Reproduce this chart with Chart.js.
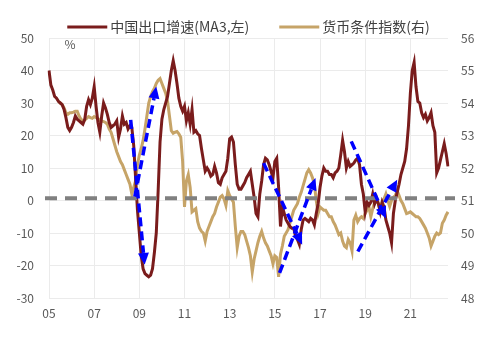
<!DOCTYPE html>
<html>
<head>
<meta charset="utf-8">
<script src="https://cdn.jsdelivr.net/npm/chart.js@4.4.1/dist/chart.umd.min.js"></script>
<style>
    html, body { margin: 0; padding: 0; background: #fff; }
    #wrap { width: 500px; height: 343px; }
</style>
</head>
<body>
<div id="wrap"><canvas id="exportChart" width="500" height="343"></canvas></div>
<script>
const startYear = 2005;
const tickLabels = ['05', '07', '09', '11', '13', '15', '17', '19', '21'];
const seriesNames = ['中国出口增速(MA3,左)', '货币条件指数(右)'];

// China export growth, MA3, % (left axis), monthly from 2005-01
const exportGrowth = [
    40, 35.5, 34, 32, 31.5, 30.5, 30, 29.5, 28, 25.5, 22.5, 21.5,
    22.5, 24, 26, 25, 24.5, 24, 23.5, 25, 29, 31, 29.5, 31.5,
    35, 29, 24, 21, 26, 30, 28.5, 26.5, 24, 22.5, 23, 23.5,
    24.5, 19.5, 22, 26, 23.5, 24, 22, 23, 22.5, 17, 7, -3,
    -10, -17, -21, -22.5, -23, -23.5, -23, -21, -16, -10, 3, 18,
    25, 28, 30, 32, 36, 40, 43, 40, 36, 31.5, 29, 27.5,
    29, 24.5, 27, 23.5, 28, 21, 21.5, 20.5, 20, 16, 12.5, 9,
    10, 9, 7.5, 8, 10.5, 8.5, 5.5, 5, 7, 8, 9, 13,
    19, 19.5, 18, 11, 5, 3.5, 3.5, 4.5, 5.5, 7, 8, 9,
    5, 1, -4, -5, 2, 6, 11, 13, 12.5, 11, 9, 7,
    12, 13, 4, -8, -2, -4, -6, -7, -8, -8.5, -8.5, -11,
    -12, -13.5, -9, -6, -5.5, -6, -6.5, -5.5, -6, -7.5, -4, -1,
    4, 7.5, 10, 9, 9, 8, 8, 7, 8.5, 9, 10, 14,
    18.5, 15, 10, 12, 10.5, 11, 11.5, 12.5, 13, 11, 5, 2,
    -3.5, -0.5, -1.5, -0.5, 2, -1, 0.5, -1, -3.5, -0.5, -2, -6,
    -8, -10, -13, -4, 0, 2.5, 5, 8, 10, 12, 16, 23,
    33, 40, 42.5, 35, 30.5, 30, 27, 25.5, 26.5, 24.5, 25.5, 27,
    23, 21, 8.5, 10, 12.5, 15, 17.5, 14.5, 10.5
];

// Monetary conditions index (right axis), starts 2005-06
const mciIndex = [
    null, null, null, null, null, 54.05, 54.0, 53.95, 53.85, 53.7, 53.65, 53.7,
    53.7, 53.72, 53.75, 53.75, 53.6, 53.5, 53.45, 53.48, 53.53, 53.58, 53.55, 53.53,
    53.58, 53.55, 53.52, 53.48, 53.45, 53.43, 53.4, 53.35, 53.2, 53.1, 52.9, 52.7,
    52.5, 52.35, 52.2, 52.1, 51.95, 51.8, 51.65, 51.5, 51.2, 51.4, 51.6, 52.1,
    52.4, 52.6, 52.85, 53.2, 53.6, 54.0, 54.2, 54.35, 54.45, 54.6, 54.7, 54.75,
    54.6, 54.45, 54.3, 54.05, 53.6, 53.15, 53.07, 53.1, 53.12, 53.05, 52.95, 52.2,
    50.8, 51.6, 51.8, 51.4, 50.65, 50.7, 50.75, 50.35, 50.15, 50.05, 50.0, 49.75,
    50.05, 50.2, 50.35, 50.5, 50.6, 50.8, 50.95, 51.1, 51.15, 51.05, 50.85, 51.3,
    51.15, 51.05, 50.95, 50.2, 49.55, 49.9, 50.05, 50.05, 49.95, 49.75, 49.55, 49.3,
    48.8, 49.2, 49.45, 49.7, 49.9, 50.05, 49.85, 49.7, 49.6, 49.45, 49.3, 49.05,
    49.3, 49.25, 48.65, 49.35, 49.6, 49.9, 50.0, 50.1, 50.3, 50.5, 50.7, 50.8,
    50.9, 51.1, 51.25, 51.45, 51.65, 51.85, 51.95, 51.85, 51.7, 51.5, 51.0, 50.6,
    50.8, 50.75, 50.7, 50.7, 50.6, 50.5, 50.5, 50.35, 50.25, 50.1, 49.95, 50.0,
    49.75, 49.6, 49.55, 49.8, 49.7, 49.45, 50.4, 50.55, 50.35, 50.45, 50.5, 50.45,
    50.6, 50.7, 50.8, 50.5, 50.75, 50.95, 51.1, 50.9, 50.7, 50.95, 51.05, 51.2,
    51.0, 50.82, 51.0, 51.1, 51.15, 51.3, 51.15, 51.0, 50.9, 50.75, 50.6, 50.62,
    50.65, 50.6, 50.55, 50.5, 50.5, 50.45, 50.35, 50.25, 50.15, 50.0, 49.85, 49.6,
    49.75, 49.9, 50.0, 49.95, 50.0, 50.3, 50.4, 50.55, 50.65
];

// grey dashed reference level (left axis)
const baseline = 0.7;

// blue trend arrows: [month index, left-axis value]
const arrows = [
    { from: [43.4, 24.8], to: [50.8, -19.8] },
    { from: [45.6, 1.2], to: [57.0, 35.1] },
    { from: [114.0, 11.5], to: [134.5, -13.6] },
    { from: [122.5, -22.3], to: [141.6, 6.9] },
    { from: [160.6, 18.2], to: [179.0, -5.5] },
    { from: [164.1, -15.7], to: [185.0, 6.4] }
];

const months = exportGrowth.map((_, i) =>
    `${startYear + Math.floor(i / 12)}-${String(i % 12 + 1).padStart(2, '0')}`);

const RED = '#7a1c1c';
const TAN = '#c6a468';
const GRID = '#ebebeb';
const TICK = '#595959';

Chart.defaults.font.family = '"Noto Sans CJK SC", "Noto Sans", sans-serif';

const overlay = {
    id: 'overlay',
    afterDatasetsDraw(chart) {
        const { ctx, chartArea: area, scales: { x, y } } = chart;
        ctx.save();

        // dashed reference line
        const yb = y.getPixelForValue(baseline);
        ctx.strokeStyle = '#808080';
        ctx.lineWidth = 4;
        ctx.setLineDash([12, 8]);
        ctx.beginPath();
        ctx.moveTo(area.left - 4, yb);
        ctx.lineTo(area.right + 7, yb);
        ctx.stroke();

        // trend arrows
        ctx.strokeStyle = '#0000ff';
        ctx.fillStyle = '#0000ff';
        ctx.lineWidth = 3.5;
        arrows.forEach(a => {
            const x0 = x.getPixelForValue(a.from[0]);
            const y0 = y.getPixelForValue(a.from[1]);
            const x1 = x.getPixelForValue(a.to[0]);
            const y1 = y.getPixelForValue(a.to[1]);
            const ang = Math.atan2(y1 - y0, x1 - x0);
            const head = 12, half = 5.5;
            const bx = x1 - Math.cos(ang) * head;
            const by = y1 - Math.sin(ang) * head;
            ctx.setLineDash([9, 5]);
            ctx.beginPath();
            ctx.moveTo(x0, y0);
            ctx.lineTo(bx, by);
            ctx.stroke();
            ctx.setLineDash([]);
            ctx.beginPath();
            ctx.moveTo(x1, y1);
            ctx.lineTo(bx + Math.sin(ang) * half, by - Math.cos(ang) * half);
            ctx.lineTo(bx - Math.sin(ang) * half, by + Math.cos(ang) * half);
            ctx.closePath();
            ctx.fill();
        });
        ctx.restore();
    },
    afterDraw(chart) {
        const { ctx, chartArea: area } = chart;
        ctx.save();

        // legend
        ctx.font = '14px "Noto Sans CJK SC"';
        ctx.textBaseline = 'middle';
        const items = [
            { text: seriesNames[0], color: RED },
            { text: seriesNames[1], color: TAN }
        ];
        const widths = items.map(it => 40 + 3 + ctx.measureText(it.text).width);
        const total = widths[0] + 30 + widths[1];
        let lx = (area.left + area.right) / 2 - total / 2;
        const ly = 27;
        items.forEach((it, i) => {
            ctx.strokeStyle = it.color;
            ctx.lineWidth = 3;
            ctx.beginPath();
            ctx.moveTo(lx, ly);
            ctx.lineTo(lx + 40, ly);
            ctx.stroke();
            ctx.fillStyle = '#404040';
            ctx.fillText(it.text, lx + 43, ly);
            lx += widths[i] + 30;
        });

        // unit label
        ctx.font = '12px "Noto Sans CJK SC"';
        ctx.fillStyle = TICK;
        ctx.textAlign = 'center';
        ctx.fillText('%', area.left + 21, area.top + 6);
        ctx.restore();
    }
};

new Chart(document.getElementById('exportChart'), {
    type: 'line',
    data: {
        labels: months,
        datasets: [{
            label: seriesNames[0],
            data: exportGrowth,
            yAxisID: 'y',
            borderColor: RED,
            borderWidth: 3,
            pointRadius: 0,
            tension: 0
        }, {
            label: seriesNames[1],
            data: mciIndex,
            yAxisID: 'y1',
            borderColor: TAN,
            borderWidth: 3,
            pointRadius: 0,
            tension: 0
        }]
    },
    options: {
        responsive: false,
        animation: false,
        layout: { padding: { top: 38, left: 0, right: 0, bottom: 0 } },
        plugins: {
            legend: { display: false },
            tooltip: { enabled: false }
        },
        scales: {
            x: {
                ticks: {
                    autoSkip: false,
                    maxRotation: 0,
                    padding: 8,
                    color: TICK,
                    font: { size: 12 },
                    callback: (v, i) => i % 24 === 0 ? tickLabels[i / 24] : ''
                },
                grid: {
                    color: c => c.index % 24 === 0 ? GRID : 'transparent',
                    drawTicks: false
                },
                border: { display: false },
                afterFit(s) { s.height = 45; }
            },
            y: {
                position: 'left',
                min: -30,
                max: 50,
                ticks: { stepSize: 10, padding: 15, color: TICK, font: { size: 12 } },
                grid: { color: GRID, drawTicks: false },
                border: { display: false },
                afterFit(s) { s.width = 49; }
            },
            y1: {
                position: 'right',
                min: 48,
                max: 56,
                ticks: { stepSize: 1, padding: 13, color: TICK, font: { size: 12 } },
                grid: { drawOnChartArea: false, drawTicks: false },
                border: { display: false },
                afterFit(s) { s.width = 52; }
            }
        }
    },
    plugins: [overlay]
});
</script>
</body>
</html>
